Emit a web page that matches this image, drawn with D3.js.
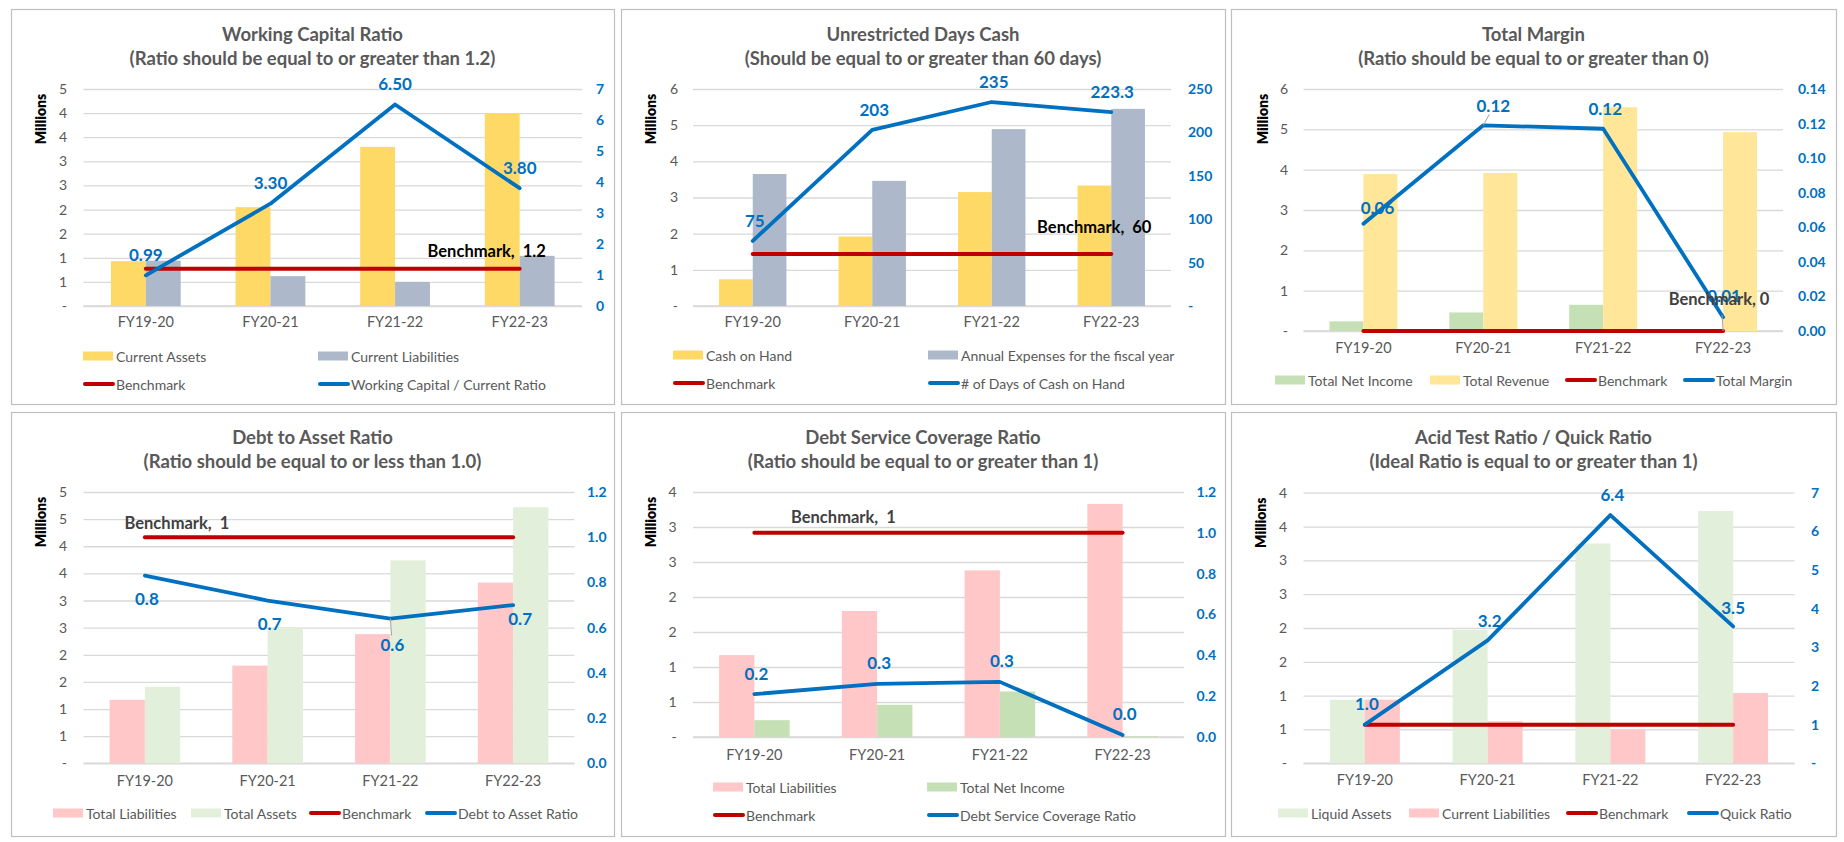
<!DOCTYPE html>
<html>
<head>
<meta charset="utf-8">
<script src="https://cdn.jsdelivr.net/npm/d3@7"></script>
<style>
  html, body { margin: 0; padding: 0; background: #fff; }
  svg { display: block; font-family: Lato, "Open Sans", sans-serif; }
</style>
</head>
<body>
<svg id="board" width="1844" height="842"></svg>
<script>
// ---- Data (amounts in millions, ratios as stated) ----
const years = ["FY19-20", "FY20-21", "FY21-22", "FY22-23"];

const currentAssets      = [0.93, 2.05, 3.30, 4.00];
const currentLiabilities = [0.94, 0.62, 0.50, 1.04];
const workingCapitalRatio = [0.99, 3.30, 6.50, 3.80];
const workingCapitalBenchmark = 1.2;

const cashOnHand     = [0.74, 1.92, 3.15, 3.33];
const annualExpenses = [3.65, 3.46, 4.89, 5.45];
const daysCashOnHand = [75, 203, 235, 223.3];
const daysCashBenchmark = 60;

const totalNetIncome = [0.24, 0.46, 0.65, 0.012];
const totalRevenue   = [3.89, 3.92, 5.55, 4.93];
const totalMargin    = [0.062, 0.119, 0.117, 0.008];
const marginBenchmark = 0;

const totalLiabilities = [1.17, 1.80, 2.38, 3.33];
const totalAssets      = [1.41, 2.51, 3.74, 4.72];
const debtToAssetRatio = [0.83, 0.72, 0.64, 0.70];
const debtToAssetBenchmark = 1;

const debtServiceCoverage = [0.21, 0.26, 0.27, 0.01];
const debtServiceBenchmark = 1;

const liquidAssets = [0.94, 1.97, 3.25, 3.73];
const quickRatio   = [1.0, 3.18, 6.42, 3.54];
const quickBenchmark = 1;

// ---- Tick label sets ----
const halfMillionTicks = n => d3.range(0, n + 0.001, 0.5);
const wholeMillionTicks = n => d3.range(0, n + 0.001, 1);

// ---- Colours ----
const C = {
  gold: "#FFD966", slate: "#ADB9CA", paleGold: "#FFE699", sage: "#C5E0B4",
  pink: "#FFC7C7", mint: "#E2EFDA", red: "#C00000", blue: "#0070C0",
  grid: "#D9D9D9", text: "#595959", frame: "#BFBFBF"
};

const millionsFmt = v => v === 0 ? "-" : String(Math.round(v));

const panels = [
  {
    title: ["Working Capital Ratio", "(Ratio should be equal to or greater than 1.2)"],
    frame: [11, 9, 614, 404],
    plot: { l: 83.5, r: 582, t: 89, b: 306 },
    leftX: 67, millionsX: 40, rightX: 596, catY: 323,
    leftTicks: halfMillionTicks(4.5), leftFmt: millionsFmt,
    rightTicks: d3.range(0, 8), rightFmt: v => String(v),
    pad: 0.44,
    bars: [
      { name: "Current Assets", values: currentAssets, color: C.gold },
      { name: "Current Liabilities", values: currentLiabilities, color: C.slate }
    ],
    ratio: { name: "Working Capital / Current Ratio", values: workingCapitalRatio, fmt: d3.format(".2f") },
    labelOffsets: [[0, -21], [0, -21], [0, -21], [0, -21]],
    bench: { value: workingCapitalBenchmark, text: "Benchmark,  1.2", at: 3, dx: -33, dy: -18, color: "#000" },
    legend: [[83, 356], [318, 356], [83, 384], [318, 384]]
  },
  {
    title: ["Unrestricted Days Cash", "(Should be equal to or greater than 60 days)"],
    frame: [621, 9, 1225, 404],
    plot: { l: 693, r: 1171, t: 89, b: 306 },
    leftX: 678, millionsX: 650, rightX: 1188, catY: 323,
    leftTicks: wholeMillionTicks(6), leftFmt: millionsFmt,
    rightTicks: d3.range(0, 251, 50), rightFmt: v => v === 0 ? "-" : String(v),
    pad: 0.436,
    bars: [
      { name: "Cash on Hand", values: cashOnHand, color: C.gold },
      { name: "Annual Expenses for the fiscal year", values: annualExpenses, color: C.slate }
    ],
    ratio: { name: "# of Days of Cash on Hand", values: daysCashOnHand, fmt: v => String(v) },
    labelOffsets: [[2, -20], [2, -20], [2, -21], [1, -21]],
    bench: { value: daysCashBenchmark, text: "Benchmark,  60", at: 3, dx: -17, dy: -27, color: "#000" },
    legend: [[673, 355], [928, 355], [673, 383], [928, 383]]
  },
  {
    title: ["Total Margin", "(Ratio should be equal to or greater than 0)"],
    frame: [1231, 9, 1836, 404],
    plot: { l: 1303.5, r: 1783, t: 89, b: 331 },
    leftX: 1288, millionsX: 1262, rightX: 1798, catY: 349,
    leftTicks: wholeMillionTicks(6), leftFmt: millionsFmt,
    rightTicks: d3.range(0, 0.1401, 0.02), rightFmt: d3.format(".2f"),
    pad: 0.433,
    bars: [
      { name: "Total Net Income", values: totalNetIncome, color: C.sage },
      { name: "Total Revenue", values: totalRevenue, color: C.paleGold }
    ],
    ratio: { name: "Total Margin", values: totalMargin, fmt: d3.format(".2f") },
    labelOffsets: [[14, -16], [10, -20], [2, -20], [1, -22]],
    leaders: [1],
    bench: { value: marginBenchmark, text: "Benchmark, 0", at: 3, dx: -4, dy: -32, color: "#404040", leader: true },
    legend: [[1275, 380], [1430, 380], [1565, 380], [1683, 380]]
  },
  {
    title: ["Debt to Asset Ratio", "(Ratio should be equal to or less than 1.0)"],
    frame: [11, 412, 614, 836],
    plot: { l: 83.5, r: 574.5, t: 492, b: 763.3 },
    leftX: 67, millionsX: 40, rightX: 587, catY: 782,
    leftTicks: halfMillionTicks(5), leftFmt: millionsFmt,
    rightTicks: d3.range(0, 1.201, 0.2), rightFmt: d3.format(".1f"),
    pad: 0.425,
    bars: [
      { name: "Total Liabilities", values: totalLiabilities, color: C.pink },
      { name: "Total Assets", values: totalAssets, color: C.mint }
    ],
    ratio: { name: "Debt to Asset Ratio", values: debtToAssetRatio, fmt: d3.format(".1f") },
    labelOffsets: [[2, 23], [2, 23], [2, 26], [7, 13]],
    leaders: [2],
    bench: { value: debtToAssetBenchmark, text: "Benchmark,  1", at: 0, dx: 32, dy: -14, color: "#404040" },
    legend: [[53, 813], [191, 813], [309, 813], [425, 813]]
  },
  {
    title: ["Debt Service Coverage Ratio", "(Ratio should be equal to or greater than 1)"],
    frame: [621, 412, 1225, 836],
    plot: { l: 693, r: 1184, t: 492, b: 737 },
    leftX: 676.6, millionsX: 650, rightX: 1196.6, catY: 756,
    leftTicks: halfMillionTicks(3.5), leftFmt: millionsFmt,
    rightTicks: d3.range(0, 1.201, 0.2), rightFmt: d3.format(".1f"),
    pad: 0.425,
    bars: [
      { name: "Total Liabilities", values: totalLiabilities, color: C.pink },
      { name: "Total Net Income", values: totalNetIncome, color: C.sage }
    ],
    ratio: { name: "Debt Service Coverage Ratio", values: debtServiceCoverage, fmt: d3.format(".1f") },
    labelOffsets: [[2, -21], [2, -21], [2, -21], [2, -21]],
    bench: { value: debtServiceBenchmark, text: "Benchmark,  1", at: 0, dx: 89, dy: -16, color: "#404040" },
    legend: [[713, 787], [927, 787], [713, 815], [927, 815]]
  },
  {
    title: ["Acid Test Ratio / Quick Ratio", "(Ideal Ratio is equal to or greater than 1)"],
    frame: [1231, 412, 1836, 836],
    plot: { l: 1303.5, r: 1794.5, t: 492.7, b: 763.3 },
    leftX: 1287, millionsX: 1260, rightX: 1811, catY: 780.7,
    leftTicks: halfMillionTicks(4), leftFmt: millionsFmt,
    rightTicks: d3.range(0, 8), rightFmt: v => v === 0 ? "-" : String(v),
    pad: 0.43,
    bars: [
      { name: "Liquid Assets", values: liquidAssets, color: C.mint },
      { name: "Current Liabilities", values: currentLiabilities, color: C.pink }
    ],
    ratio: { name: "Quick Ratio", values: quickRatio, fmt: d3.format(".1f") },
    labelOffsets: [[2, -21], [2, -20], [2, -21], [0, -19]],
    bench: { value: quickBenchmark, text: null, at: 3 },
    legend: [[1278, 813], [1409, 813], [1566, 813], [1687, 813]]
  }
];

const svg = d3.select("#board");

panels.forEach(drawPanel);

function drawPanel(p) {
  const g = svg.append("g");
  const [fx0, fy0, fx1, fy1] = p.frame;
  const { l, r, t, b } = p.plot;

  // frame
  g.append("rect")
    .attr("x", fx0 + 0.5).attr("y", fy0 + 0.5)
    .attr("width", fx1 - fx0).attr("height", fy1 - fy0)
    .attr("fill", "#fff").attr("stroke", C.frame).attr("stroke-width", 1.2);

  // title
  const cx = (fx0 + fx1) / 2;
  p.title.forEach((line, i) => {
    g.append("text")
      .attr("x", cx).attr("y", fy0 + 25 + i * 24)
      .attr("text-anchor", "middle").attr("dominant-baseline", "central")
      .attr("font-size", 18.5).attr("font-weight", 700).attr("fill", C.text)
      .text(line);
  });

  // scales
  const leftMax = d3.max(p.leftTicks), rightMax = d3.max(p.rightTicks);
  const yL = d3.scaleLinear().domain([0, leftMax]).range([b, t]);
  const yR = d3.scaleLinear().domain([0, rightMax]).range([b, t]);
  const x0 = d3.scaleBand().domain(years).range([l, r])
    .paddingInner(p.pad).paddingOuter(p.pad / 2);
  const x1 = d3.scaleBand().domain(p.bars.map(s => s.name)).range([0, x0.bandwidth()]);
  const cxOf = i => x0(years[i]) + x0.bandwidth() / 2;

  // gridlines + left axis
  const leftAxis = d3.axisLeft(yL).tickValues(p.leftTicks).tickFormat(p.leftFmt)
    .tickSize(-(r - l)).tickPadding(l - p.leftX);
  const la = g.append("g").attr("transform", `translate(${l},0)`).call(leftAxis);
  la.select(".domain").remove();
  la.selectAll(".tick line").attr("stroke", C.grid).attr("stroke-width", 1.3);
  la.selectAll(".tick text").attr("fill", C.text).attr("font-size", 14)
    .attr("font-family", "Lato, sans-serif");

  // right axis
  const rightAxis = d3.axisRight(yR).tickValues(p.rightTicks).tickFormat(p.rightFmt)
    .tickSize(0).tickPadding(p.rightX - r);
  const ra = g.append("g").attr("transform", `translate(${r},0)`).call(rightAxis);
  ra.select(".domain").remove();
  ra.selectAll(".tick text").attr("fill", C.blue).attr("font-size", 14)
    .attr("font-weight", 700).attr("font-family", "Lato, sans-serif");

  // category axis
  const bottomAxis = d3.axisBottom(x0).tickSize(0).tickPadding(p.catY - b - 6);
  const ba = g.append("g").attr("transform", `translate(0,${b})`).call(bottomAxis);
  ba.select(".domain").attr("stroke", C.grid).attr("stroke-width", 1.5)
    .attr("d", `M${l},0H${r}`);
  ba.selectAll(".tick text").attr("fill", C.text).attr("font-size", 14.5)
    .attr("font-family", "Lato, sans-serif");

  // "Millions" caption
  g.append("text")
    .attr("transform", `translate(${p.millionsX},${t + 30}) rotate(-90)`)
    .attr("text-anchor", "middle").attr("dominant-baseline", "central")
    .attr("font-size", 14).attr("font-weight", 800).attr("fill", "#000")
    .text("Millions");

  // bars
  p.bars.forEach(s => {
    g.append("g").selectAll("rect").data(s.values).join("rect")
      .attr("x", (v, i) => x0(years[i]) + x1(s.name))
      .attr("width", x1.bandwidth())
      .attr("y", v => yL(v))
      .attr("height", v => yL(0) - yL(v))
      .attr("fill", s.color);
  });

  // benchmark line across the categories
  const benchVals = years.map(() => p.bench.value);
  const line = d3.line().x((v, i) => cxOf(i)).y(v => yR(v));
  g.append("path").datum(benchVals).attr("d", line)
    .attr("fill", "none").attr("stroke", C.red).attr("stroke-width", 4)
    .attr("stroke-linecap", "round");

  // ratio line
  g.append("path").datum(p.ratio.values).attr("d", line)
    .attr("fill", "none").attr("stroke", C.blue).attr("stroke-width", 3.8)
    .attr("stroke-linecap", "round").attr("stroke-linejoin", "round");

  // leader lines for offset labels
  (p.leaders || []).forEach(i => {
    const [dx, dy] = p.labelOffsets[i];
    const px = cxOf(i), py = yR(p.ratio.values[i]);
    g.append("line")
      .attr("x1", px).attr("y1", py)
      .attr("x2", px + dx * 0.6).attr("y2", py + (dy > 0 ? dy - 9 : dy + 9))
      .attr("stroke", "#A6A6A6").attr("stroke-width", 1);
  });

  // ratio value labels
  g.append("g").selectAll("text").data(p.ratio.values).join("text")
    .attr("x", (v, i) => cxOf(i) + p.labelOffsets[i][0])
    .attr("y", (v, i) => yR(v) + p.labelOffsets[i][1])
    .attr("text-anchor", "middle").attr("dominant-baseline", "central")
    .attr("font-size", 17).attr("font-weight", 700).attr("fill", C.blue)
    .text(p.ratio.fmt);

  // benchmark label
  if (p.bench.text) {
    const bx = cxOf(p.bench.at), by = yR(p.bench.value);
    if (p.bench.leader) {
      g.append("line").attr("x1", bx).attr("y1", by)
        .attr("x2", bx - 1).attr("y2", by + p.bench.dy + 16)
        .attr("stroke", "#A6A6A6").attr("stroke-width", 1);
    }
    g.append("text")
      .attr("x", bx + p.bench.dx).attr("y", by + p.bench.dy)
      .attr("text-anchor", "middle").attr("dominant-baseline", "central")
      .attr("font-size", 16.5).attr("font-weight", 700).attr("fill", p.bench.color)
      .style("white-space", "pre")
      .text(p.bench.text);
  }

  // legend: two bar series, benchmark, ratio line
  const items = [
    { name: p.bars[0].name, type: "bar", color: p.bars[0].color },
    { name: p.bars[1].name, type: "bar", color: p.bars[1].color },
    { name: "Benchmark", type: "line", color: C.red },
    { name: p.ratio.name, type: "line", color: C.blue }
  ];
  items.forEach((it, i) => {
    const [lx, ly] = p.legend[i];
    if (it.type === "bar") {
      g.append("rect").attr("x", lx).attr("y", ly - 4.5).attr("width", 30).attr("height", 9)
        .attr("fill", it.color);
    } else {
      g.append("line").attr("x1", lx + 2).attr("x2", lx + 30).attr("y1", ly).attr("y2", ly)
        .attr("stroke", it.color).attr("stroke-width", 4).attr("stroke-linecap", "round");
    }
    g.append("text").attr("x", lx + 33).attr("y", ly)
      .attr("dominant-baseline", "central")
      .attr("font-size", 14).attr("fill", C.text)
      .text(it.name);
  });
}
</script>
</body>
</html>
